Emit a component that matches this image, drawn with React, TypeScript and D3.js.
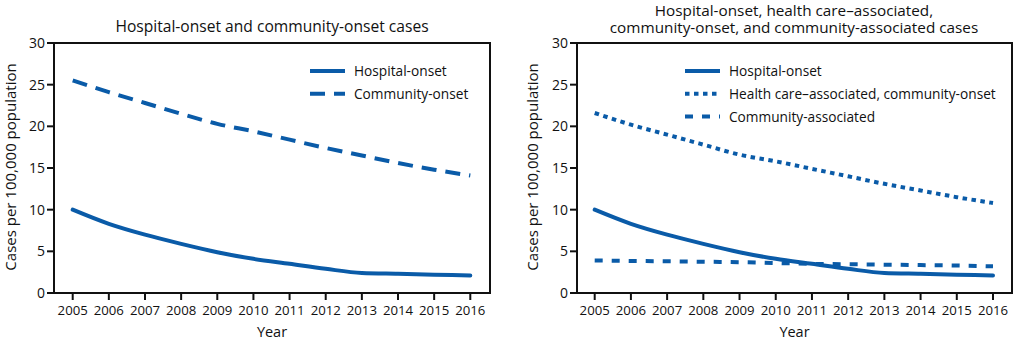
import React from "react";
import * as d3 from "d3";

const years = [2005, 2006, 2007, 2008, 2009, 2010, 2011, 2012, 2013, 2014, 2015, 2016];
const yTicks = [0, 5, 10, 15, 20, 25, 30];
const hospitalOnset = [10.0, 8.3, 7.0, 5.9, 4.9, 4.1, 3.5, 2.9, 2.4, 2.3, 2.2, 2.1];
const communityOnset = [25.5, 24.1, 22.8, 21.5, 20.3, 19.4, 18.4, 17.4, 16.5, 15.6, 14.8, 14.1];
const hcaCommunityOnset = [21.6, 20.2, 19.0, 17.8, 16.6, 15.8, 14.9, 14.0, 13.1, 12.3, 11.5, 10.8];
const communityAssociated = [3.9, 3.85, 3.8, 3.75, 3.7, 3.6, 3.5, 3.45, 3.4, 3.35, 3.3, 3.2];

const leftTitle = ["Hospital-onset and community-onset cases"];
const rightTitle = ["Hospital-onset, health care\u2013associated,", "community-onset, and community-associated cases"];
const leftLegend = ["Hospital-onset", "Community-onset"];
const rightLegend = ["Hospital-onset", "Health care\u2013associated, community-onset", "Community-associated"];

const BLUE = "#0a5ba8";
const FONT = "'Open Sans', sans-serif";

type Series = { values: number[]; dash: string; label: string };

function Panel(props: {
  x0: number; x1: number; frameL: number; frameR: number;
  title: string[]; series: Series[]; legendX: number; titleCx: number; yLabelX: number;
}) {
  const { x0, x1, frameL, frameR, title, series, legendX, titleCx, yLabelX } = props;
  const top = 43, bottom = 293;
  const x = d3.scaleLinear().domain([2005, 2016]).range([x0, x1]);
  const y = d3.scaleLinear().domain([0, 30]).range([bottom, top]);
  const line = d3.line<number>().x((_, i) => x(years[i])).y(d => y(d)).curve(d3.curveMonotoneX);
  const multi = title.length > 1;
  return (
    <g>
      <text x={titleCx} y={multi ? 16 : 32} textAnchor="middle" fontSize={multi ? 15.3 : 15.6} fontFamily={FONT} fill="#111">
        {title.map((t, i) => (
          <tspan key={i} x={titleCx} dy={i === 0 ? 0 : 16.5}>{t}</tspan>
        ))}
      </text>
      {series.map((s, i) => (
        <path key={i} d={line(s.values) || ""} fill="none" stroke={BLUE} strokeWidth={4} strokeDasharray={s.dash} strokeLinecap={s.dash === "none" ? "round" : "butt"} />
      ))}
      <rect x={frameL} y={top} width={frameR - frameL} height={bottom - top} fill="none" stroke="#111" strokeWidth={2} />
      {yTicks.map(t => (
        <g key={t}>
          <line x1={frameL - 7} x2={frameL} y1={y(t)} y2={y(t)} stroke="#111" strokeWidth={2} />
          <text x={frameL - 9} y={y(t) + 5} textAnchor="end" fontSize={14} fontFamily={FONT} fill="#111">{t}</text>
        </g>
      ))}
      {years.map(yr => (
        <g key={yr}>
          <line x1={x(yr)} x2={x(yr)} y1={bottom} y2={bottom + 7} stroke="#111" strokeWidth={2} />
          <text x={x(yr)} y={315} textAnchor="middle" fontSize={13.2} fontFamily={FONT} fill="#111">{yr}</text>
        </g>
      ))}
      <text x={(frameL + frameR) / 2} y={337} textAnchor="middle" fontSize={14.5} fontFamily={FONT} fill="#111">Year</text>
      <text transform={`translate(${yLabelX},167) rotate(-90)`} textAnchor="middle" fontSize={15} fontFamily={FONT} fill="#111">Cases per 100,000 population</text>
      {series.map((s, i) => (
        <g key={i}>
          <line x1={legendX} x2={legendX + 35} y1={71 + i * 22.8} y2={71 + i * 22.8} stroke={BLUE} strokeWidth={4} strokeDasharray={s.dash === "none" ? "none" : s.dash} />
          <text x={legendX + 44} y={71 + i * 22.8 + 5} fontSize={13.7} fontFamily={FONT} fill="#111">{s.label}</text>
        </g>
      ))}
    </g>
  );
}

export default function App() {
  return (
    <svg width={1020} height={346} style={{ position: "absolute", left: 0, top: 0, background: "#fff" }}>
      <rect width={1020} height={346} fill="#fff" />
      <Panel x0={72.7} x1={470.3} frameL={54} frameR={490} title={leftTitle} titleCx={272} legendX={310} yLabelX={16}
        series={[
          { values: hospitalOnset, dash: "none", label: leftLegend[0] },
          { values: communityOnset, dash: "15,9", label: leftLegend[1] },
        ]} />
      <Panel x0={594.7} x1={993} frameL={577} frameR={1012} title={rightTitle} titleCx={794} legendX={685} yLabelX={538}
        series={[
          { values: hospitalOnset, dash: "none", label: rightLegend[0] },
          { values: hcaCommunityOnset, dash: "4.5,4.5", label: rightLegend[1] },
          { values: communityAssociated, dash: "8,9", label: rightLegend[2] },
        ]} />
    </svg>
  );
}
